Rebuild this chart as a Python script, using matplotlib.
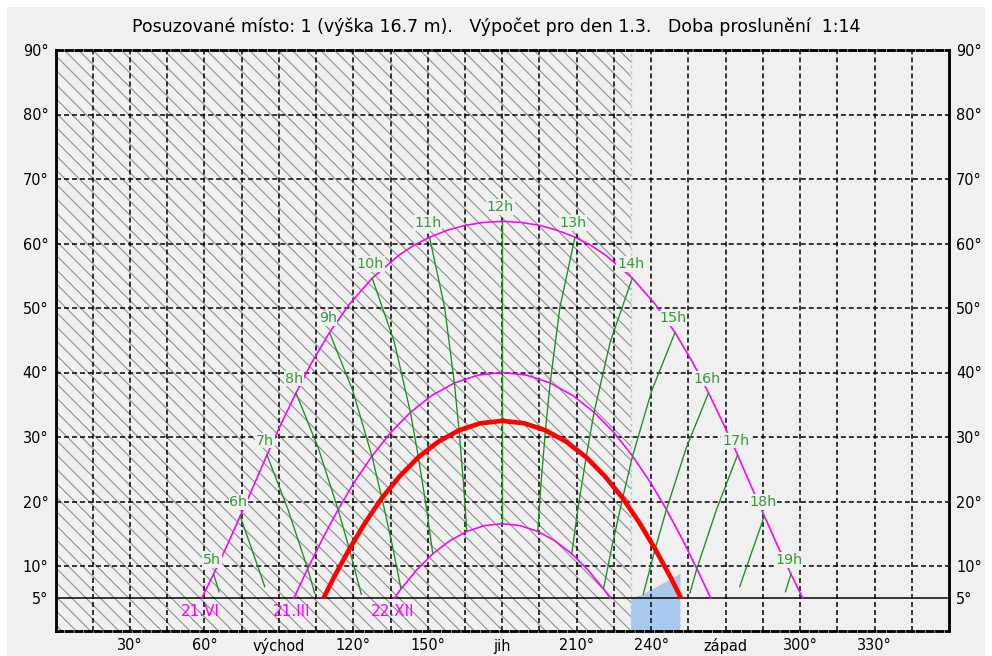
import matplotlib
matplotlib.use('Agg')
import matplotlib.pyplot as plt
from matplotlib.patches import Rectangle

# Sun paths (azimuth in deg, altitude in deg)
summer_az = [58.9, 63.7, 69.1, 74.4, 79.8, 85.2, 90.9, 96.9, 103.3, 110.4, 118.4,
             127.6, 138.3, 144.25, 150.7, 157.6, 164.85, 172.3, 180, 187.7, 195.15,
             202.4, 209.3, 215.75, 221.7, 232.4, 241.6, 249.6, 256.7, 263.1, 269.1,
             274.8, 280.2, 285.6, 290.9, 296.3, 301.1]
summer_alt = [5.0, 8.75, 13.16, 17.74, 22.44, 27.22, 32.03, 36.84, 41.58, 46.2, 50.59,
              54.63, 58.17, 59.69, 60.97, 62.02, 62.8, 63.26, 63.44, 63.26, 62.8,
              62.02, 60.97, 59.69, 58.17, 54.63, 50.59, 46.2, 41.58, 36.84, 32.03,
              27.22, 22.44, 17.74, 13.16, 8.75, 5.0]

equinox_az = [96.0, 101.6, 107.6, 113.85, 120.45, 127.5, 134.95, 143.0, 151.6, 160.7,
              170.25, 180, 189.75, 199.3, 208.4, 217.0, 225.05, 232.5, 239.55, 246.15,
              252.4, 258.4, 264.0]
equinox_alt = [5.0, 9.58, 14.24, 18.75, 23.04, 27.03, 30.66, 33.83, 36.43, 38.38,
               39.59, 40.0, 39.59, 38.38, 36.43, 33.83, 30.66, 27.03, 23.04, 18.75,
               14.24, 9.58, 5.0]

winter_az = [136.5, 139.2, 145.5, 152.0, 158.8, 165.7, 172.8, 180, 187.2, 194.3,
             201.2, 208.0, 214.5, 220.8, 223.5]
winter_alt = [5.0, 6.45, 9.39, 11.89, 13.9, 15.36, 16.26, 16.56, 16.26, 15.36,
              13.9, 11.89, 9.39, 6.45, 5.0]

# the evaluated day (1.3.)
day_az = [107.95, 112.2, 118.4, 124.8, 131.5, 138.7, 146.2, 154.2, 162.6, 171.2, 180,
          188.8, 197.4, 205.8, 213.8, 221.3, 228.5, 235.2, 241.6, 247.8, 252.05]
day_alt = [5.0, 8.27, 12.63, 16.74, 20.53, 23.93, 26.87, 29.26, 31.04, 32.13, 32.5,
           32.13, 31.04, 29.26, 26.87, 23.93, 20.53, 16.74, 12.63, 8.27, 5.0]

date_labels = ['21.VI', '21.III', '22.XII']

# hour lines (from 21.VI down to 22.XII / horizon)
hour_labels = ['5h', '6h', '7h', '8h', '9h', '10h', '11h', '12h',
               '13h', '14h', '15h', '16h', '17h', '18h', '19h']
hour_az = [
    [63.7, 65.9],
    [74.4, 82.2, 84.3],
    [85.2, 93.65, 101.6, 104.4],
    [96.9, 105.9, 113.85, 118.4, 123.2],
    [110.4, 119.8, 127.5, 131.5, 135.8, 139.2],
    [127.6, 136.5, 143.0, 146.2, 149.5, 152.0],
    [150.7, 156.8, 160.7, 162.6, 164.4, 165.7],
    [180, 180, 180, 180, 180, 180],
    [209.3, 203.2, 199.3, 197.4, 195.6, 194.3],
    [232.4, 223.5, 217.0, 213.8, 210.5, 208.0],
    [249.6, 240.2, 232.5, 228.5, 224.2, 220.8],
    [263.1, 254.1, 246.15, 241.6, 236.8],
    [274.8, 266.35, 258.4, 255.6],
    [285.6, 277.8, 275.7],
    [296.3, 294.1],
]
hour_alt = [
    [8.75, 6.0],
    [17.74, 9.16, 6.8],
    [27.22, 18.78, 9.58, 5.8],
    [36.84, 28.27, 18.75, 12.63, 5.61],
    [46.2, 37.15, 27.03, 20.53, 13.05, 6.45],
    [54.63, 44.73, 33.83, 26.87, 18.9, 11.89],
    [60.97, 50.05, 38.38, 31.04, 22.69, 15.36],
    [63.44, 52.0, 40.0, 32.5, 24.0, 16.56],
    [60.97, 50.05, 38.38, 31.04, 22.69, 15.36],
    [54.63, 44.73, 33.83, 26.87, 18.9, 11.89],
    [46.2, 37.15, 27.03, 20.53, 13.05, 6.45],
    [36.84, 28.27, 18.75, 12.63, 5.61],
    [27.22, 18.78, 9.58, 5.8],
    [17.74, 9.16, 6.8],
    [8.75, 6.0],
]

# obstruction (hatched) and sunlit window (blue)
shadow_from = 0
shadow_to = 232.0
sunlit_az = [232.0, 232.0, 236.3, 251.0, 251.8, 251.8]
sunlit_alt = [0, 5.0, 5.5, 8.6, 8.8, 0]

xtick_pos = list(range(0, 361, 15))
xtick_text = {30: '30°', 60: '60°', 90: 'východ', 120: '120°', 150: '150°',
              180: 'jih', 210: '210°', 240: '240°', 270: 'západ', 300: '300°',
              330: '330°'}
ytick_pos = [5, 10, 20, 30, 40, 50, 60, 70, 80, 90]

title = ('Posuzované místo: 1 (výška 16.7 m).   Výpočet pro den 1.3.   '
         'Doba proslunění  1:14')

BG = '#f0f0f0'
MAGENTA = '#ff00ff'
GREEN = '#228b22'
TXT_GREEN = '#38993a'
plt.rcParams['font.family'] = ['DejaVu Sans']
plt.rcParams['hatch.linewidth'] = 0.6

fig = plt.figure(figsize=(7.75, 5.125), dpi=128, facecolor='white')
fig.patches.append(Rectangle((7 / 992, 0), 978 / 992, 649 / 656,
                             transform=fig.transFigure, facecolor=BG,
                             edgecolor='none', zorder=-10))
ax = fig.add_axes([55.5 / 992, 25.5 / 656, 893.5 / 992, 580.5 / 656])
ax.set_facecolor(BG)
ax.set_xlim(0, 360)
ax.set_ylim(0, 90)

# shading
ax.axvspan(shadow_from, shadow_to, facecolor=BG, edgecolor='#8c8c8c',
           hatch='\\\\\\', linewidth=0, zorder=0.5)
ax.axvline(shadow_to, color='#a8c8ef', lw=0.8, ls=(0, (2, 2)), zorder=0.6)
ax.fill(sunlit_az, sunlit_alt, color='#a8c8ee', lw=0, zorder=0.7)

# grid
dash = (0, (3.3, 2))
ax.set_xticks(xtick_pos)
ax.set_xticklabels([xtick_text.get(p, '') for p in xtick_pos])
ax.set_yticks(ytick_pos)
ax.set_yticklabels([f'{v}°' for v in ytick_pos])
for v in xtick_pos[1:-1]:
    ax.axvline(v, color='black', lw=0.85, ls=dash, zorder=1.5)
for v in ytick_pos[1:-1]:
    ax.axhline(v, color='black', lw=0.85, ls=dash, zorder=1.5)
ax.axhline(5, color='black', lw=0.85, zorder=1.6)

ax.tick_params(axis='both', length=0, labelsize=8.2, colors='black')
ax.tick_params(axis='y', labelright=True, pad=4)
ax.tick_params(axis='x', pad=4.5)

for side in ['left', 'right']:
    ax.spines[side].set_linewidth(1.6)
for side in ['top', 'bottom']:
    ax.spines[side].set_linewidth(1.6)
    ax.spines[side].set_linestyle((0, (2.2, 1.2)))

# sun paths
for az, alt in [(summer_az, summer_alt), (equinox_az, equinox_alt),
                (winter_az, winter_alt)]:
    ax.plot(az, alt, color=MAGENTA, lw=0.9, zorder=2)
ax.plot(day_az, day_alt, color='#ff0000', lw=2.6, zorder=2.4,
        solid_capstyle='butt')

for az, alt in zip(hour_az, hour_alt):
    ax.plot(az, alt, color=GREEN, lw=0.75, zorder=2.2)

for lab, az, alt in zip(hour_labels, hour_az, hour_alt):
    ax.annotate(lab, (az[0], alt[0]), xytext=(-1, 8),
                textcoords='offset points', ha='center', va='center',
                fontsize=8, color=TXT_GREEN, zorder=3,
                bbox=dict(boxstyle='square,pad=0.05', fc=BG, ec='none'))

for lab, az in zip(date_labels, [summer_az[0], equinox_az[0], winter_az[0]]):
    ax.annotate(lab, (az, 5), xytext=(-1, -7.5), textcoords='offset points',
                ha='center', va='center', fontsize=8.6, color=MAGENTA,
                zorder=3)

fig.text(0.5, 1 - 27 / 656, title, ha='center', va='center', fontsize=9.8)

fig.savefig('out.png', dpi=128, facecolor=fig.get_facecolor())
